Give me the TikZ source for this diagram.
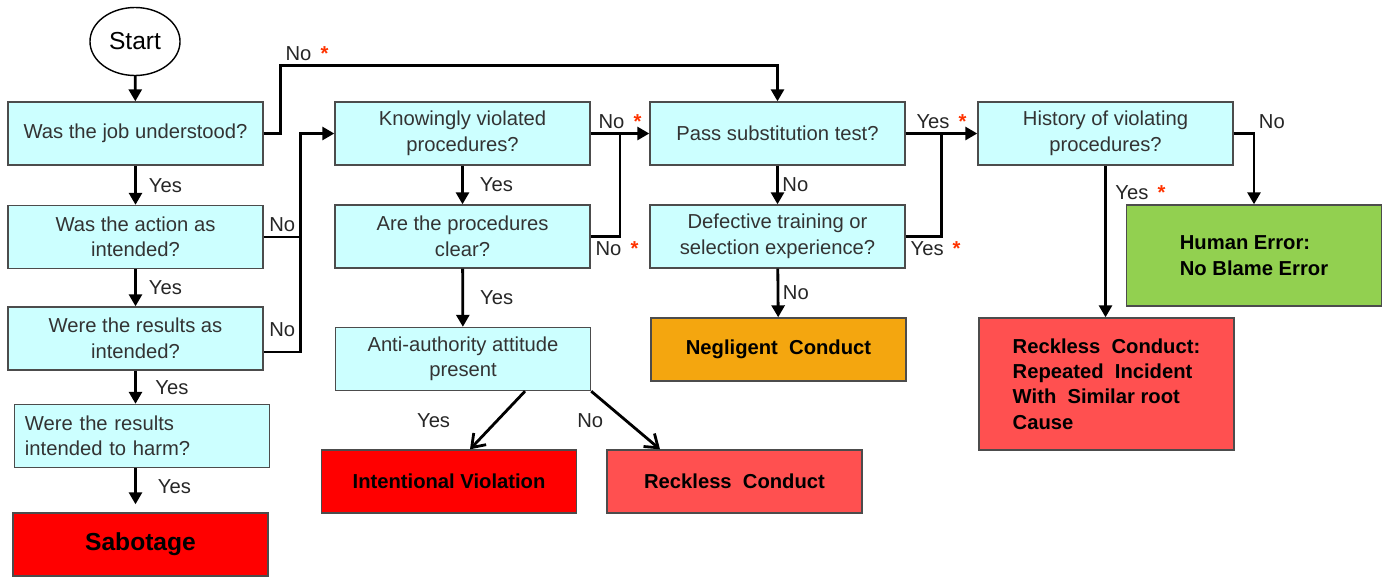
\documentclass[tikz,border=0pt]{standalone}
\usepackage{fontspec}
\setmainfont{Liberation Sans}
\usetikzlibrary{positioning, arrows.meta, calc, shapes.geometric}
\usepackage{xcolor}
\definecolor{qcyan}{HTML}{CCFFFF}
\definecolor{sabred}{HTML}{FF0000}
\definecolor{reckred}{HTML}{FF5050}
\definecolor{neglorange}{HTML}{F4A60F}
\definecolor{errgreen}{HTML}{92D050}
\definecolor{starred}{HTML}{FF3300}
\newcommand{\redstar}{\hspace{0.45em}\textcolor{starred}{\textbf{*}}}

\begin{document}
\begin{tikzpicture}[
  every node/.style={font=\fontsize{11.5}{14.5}\selectfont},
  question/.style={
    rectangle, draw=black!70, line width=0.8pt, fill=qcyan,
    text=black!80, minimum width=5.1cm, minimum height=1.26cm,
    align=center, inner sep=3pt
  },
  outcome/.style={
    rectangle, draw=black!70, line width=0.8pt,
    minimum width=5.1cm, minimum height=1.26cm,
    align=center, font=\fontsize{11.5}{14.5}\selectfont\bfseries
  },
  startnode/.style={
    ellipse, draw, line width=0.8pt,
    minimum width=1.48cm, minimum height=1.36cm,
    font=\fontsize{14}{16}\selectfont
  },
  flow/.style={-{Triangle[length=2.4mm, width=2.6mm]}, line width=1.6pt},
  link/.style={line width=1.6pt},
  split/.style={-{Straight Barb[length=2.4mm, width=3.4mm]}, line width=1.6pt},
  answer/.style={text=black!85, inner sep=2pt}
]
\useasboundingbox (0,0) rectangle (27.72,-11.54);

% ---- Left column: understanding and intent ----
\node[startnode] (start) at (2.70, -0.83) {Start};
\node[question] (job) at (2.71, -2.67) {Was the job understood?};
\node[question] (action) at (2.71, -4.74) {Was the action as\\intended?};
\node[question] (results) at (2.71, -6.77) {Were the results as\\intended?};
\node[question, text width=4.68cm, align=left, inner xsep=0.2cm]
  (harm) at (2.84, -8.72) {Were the results\\intended to harm?};
\node[outcome, fill=sabred, font=\fontsize{14}{16}\selectfont\bfseries]
  (sabotage) at (2.81, -10.89) {Sabotage};

% ---- Second column: procedures ----
\node[question] (knowing) at (9.25, -2.67) {Knowingly violated\\procedures?};
\node[question] (clear) at (9.25, -4.73) {Are the procedures\\clear?};
\node[question] (anti) at (9.26, -7.18) {Anti-authority attitude\\present};
\node[outcome, fill=sabred] (intent) at (8.98, -9.63) {Intentional Violation};
\node[outcome, fill=reckred] (reckless) at (14.69, -9.63) {Reckless\ \ Conduct};

% ---- Third column: substitution ----
\node[question] (subst) at (15.55, -2.67) {Pass substitution test?};
\node[question] (training) at (15.55, -4.73) {Defective training or\\selection experience?};
\node[outcome, fill=neglorange] (negligent) at (15.57, -6.99) {Negligent\ \ Conduct};

% ---- Right column: history ----
\node[question] (history) at (22.11, -2.67) {History of violating\\procedures?};
\node[outcome, fill=errgreen, minimum height=2.02cm, align=left]
  (human) at (25.08, -5.11) {Human Error:\\No Blame Error};
\node[outcome, fill=reckred, minimum height=2.64cm, align=left]
  (repeat) at (22.13, -7.68)
  {Reckless\ \ Conduct:\\Repeated\ \ Incident\\With\ \ Similar root\\Cause};

% ---- Arrows: left column, yes answers ----
\draw[flow] (start) -- (job);
\draw[flow] (job) -- node[answer, right=0.17cm] {Yes} (action);
\draw[flow] (action) -- node[answer, right=0.17cm] {Yes} (results);
\draw[flow] (results.south) -- node[answer, right=0.3cm] {Yes} (results.south |- harm.north);
\draw[flow] (results.south |- harm.south) --
  node[answer, right=0.35cm] {Yes} ([yshift=0.16cm]results.south |- sabotage.north);

% ---- Arrows: job not understood jumps to substitution ----
\draw[flow] (job.east) -- ++(0.34,0) |- ([yshift=0.72cm]subst.north)
  node[pos=0.5, above right, answer] {No\redstar} -- (subst.north);

% ---- Arrows: not as intended goes to procedures ----
\draw[flow] ([yshift=-0.27cm]results.east) -- ++(0.74,0) coordinate (nomerge)
  node[answer, above, pos=0.5, yshift=0.2cm] {No} |- (knowing.west);
\draw[link] (action.east) -- node[answer, above] {No} (action.east -| nomerge);

% ---- Arrows: procedures column ----
\coordinate (knomid) at ($(knowing.east)!0.5!(subst.west)$);
\draw[flow] (knowing) -- node[answer, right=0.25cm] {Yes} (clear);
\draw[flow] (clear) -- node[answer, right=0.25cm] {Yes} (anti);
\draw[flow] (knowing.east) -- node[answer, above] {No\redstar} (subst.west);
\draw[link] (clear.east) -- node[answer, below right, pos=0] {No\redstar} (clear.east -| knomid) -- (knomid);
\draw[split] ([xshift=1.24cm]anti.south) --
  node[answer, left=0.85cm] {Yes} ([xshift=0.42cm]intent.north);
\draw[split] (anti.south east) --
  node[answer, left=0.35cm] {No} ([xshift=-1.49cm]reckless.north);

% ---- Arrows: substitution column ----
\coordinate (symid) at ($(subst.east)!0.5!(history.west)$);
\draw[flow] (subst) -- node[answer, right=0pt] {No} (training);
\draw[flow] (training) -- node[answer, right=0pt] {No} (negligent);
\draw[flow] (subst.east) -- node[answer, above] {Yes\redstar} (history.west);
\draw[link] (training.east) -- node[answer, below right, pos=0] {Yes\redstar} (training.east -| symid) -- (symid);

% ---- Arrows: history to final outcomes ----
\draw[flow] (history.south) --
  node[answer, right=0.1cm, pos=0.18] {Yes\redstar} (history.south |- repeat.north);
\draw[flow] (history.east) -| node[pos=0.5, above right, answer] {No} (human.north);

\end{tikzpicture}
\end{document}
